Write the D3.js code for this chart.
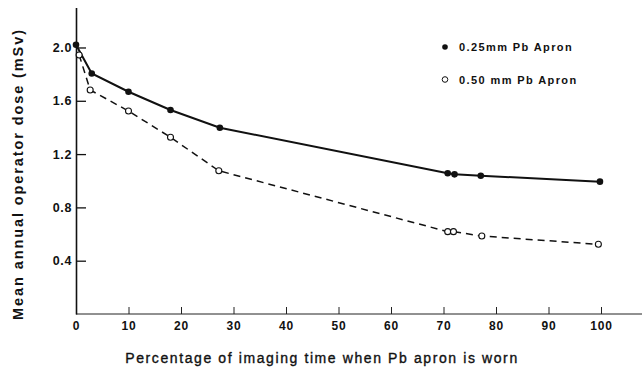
<!DOCTYPE html>
<html>
<head>
<meta charset="utf-8">
<script src="https://cdn.jsdelivr.net/npm/d3@7"></script>
<style>
  body { margin: 0; background: #fff; }
  svg { font-family: "Liberation Sans", Arial, sans-serif; }
</style>
</head>
<body>
<div id="chart"></div>
<script>
// % of imaging time apron is worn
const thinX = [0, 3, 10, 18, 27.4, 70.8, 72.1, 77.1, 99.8]
const thinDose = [2.02, 1.805, 1.668, 1.531, 1.398, 1.056, 1.048, 1.038, 0.993]
const thickX = [0.6, 2.7, 10, 18, 27.2, 70.8, 71.9, 77.3, 99.5]
const thickDose = [1.944, 1.681, 1.523, 1.326, 1.075, 0.618, 0.618, 0.585, 0.523]
const xTicks = [0, 10, 20, 30, 40, 50, 60, 70, 80, 90, 100]
const yTicks = [0.4, 0.8, 1.2, 1.6, 2.0]
const legendLabels = ['0.25mm Pb Apron', '0.50 mm Pb Apron']

const width = 642, height = 372

const svg = d3.select('#chart').append('svg')
    .attr('width', width)
    .attr('height', height)

const xScale = d3.scaleLinear().domain([0, 100]).range([76, 601])
const yScale = d3.scaleLinear().domain([0, 2.3]).range([314, 7.5])

// x axis (line runs past 100)
svg.append('line')
    .attr('x1', xScale(0)).attr('x2', 642)
    .attr('y1', yScale(0)).attr('y2', yScale(0))
    .attr('stroke', '#222').attr('stroke-width', 1)

const xAxis = svg.append('g')
    .attr('transform', `translate(0,${yScale(0)})`)
    .call(d3.axisBottom(xScale).tickValues(xTicks).tickSizeInner(-7).tickSizeOuter(0).tickPadding(7))
xAxis.select('.domain').remove()
xAxis.selectAll('.tick line').attr('stroke', '#222').attr('stroke-width', 1)
xAxis.selectAll('.tick text')
    .attr('font-size', 12).attr('font-weight', 'bold').attr('fill', '#111')
    .attr('font-family', '"Liberation Sans", Arial, sans-serif')
    .attr('letter-spacing', 0.8)

// y axis
const yAxis = svg.append('g')
    .attr('transform', `translate(${xScale(0)},0)`)
    .call(d3.axisLeft(yScale).tickValues(yTicks).tickFormat(d3.format('.1f')).tickSizeInner(-10).tickSizeOuter(0).tickPadding(4))
yAxis.select('.domain').attr('stroke', '#111').attr('stroke-width', 1.6)
yAxis.selectAll('.tick line').attr('stroke', '#111').attr('stroke-width', 1.3)
yAxis.selectAll('.tick text')
    .attr('font-size', 12.5).attr('font-weight', 'bold').attr('fill', '#111')
    .attr('font-family', '"Liberation Sans", Arial, sans-serif')
    .attr('letter-spacing', 0.6)

// axis titles
svg.append('text')
    .attr('x', 322).attr('y', 363)
    .attr('text-anchor', 'middle')
    .attr('font-size', 14)
    .attr('letter-spacing', 1.6)
    .attr('fill', '#111')
    .attr('stroke', '#111')
    .attr('stroke-width', 0.35)
    .text('Percentage of  imaging time when Pb apron is worn')

svg.append('text')
    .attr('transform', 'translate(23,174) rotate(-90)')
    .attr('text-anchor', 'middle')
    .attr('font-size', 14.5)
    .attr('font-weight', 'bold')
    .attr('letter-spacing', 1.9)
    .attr('fill', '#111')
    .text('Mean annual operator dose (mSv)')

const line = d3.line()
    .x(d => xScale(d[0]))
    .y(d => yScale(d[1]))

const thinData = thinX.map((x, i) => [x, thinDose[i]])
const thickData = thickX.map((x, i) => [x, thickDose[i]])

svg.append('path')
    .datum(thickData)
    .attr('d', line)
    .attr('fill', 'none')
    .attr('stroke', '#111')
    .attr('stroke-width', 1.5)
    .attr('stroke-dasharray', '7,5')

svg.append('path')
    .datum(thinData)
    .attr('d', line)
    .attr('fill', 'none')
    .attr('stroke', '#111')
    .attr('stroke-width', 2)

svg.append('g').selectAll('circle')
    .data(thickData)
    .enter()
    .append('circle')
    .attr('cx', d => xScale(d[0]))
    .attr('cy', d => yScale(d[1]))
    .attr('r', 3)
    .attr('fill', '#fff')
    .attr('stroke', '#111')
    .attr('stroke-width', 1.1)

svg.append('g').selectAll('circle')
    .data(thinData)
    .enter()
    .append('circle')
    .attr('cx', d => xScale(d[0]))
    .attr('cy', d => yScale(d[1]))
    .attr('r', 3.3)
    .attr('fill', '#111')

// legend
const legend = svg.append('g').selectAll('g')
    .data(legendLabels)
    .enter()
    .append('g')
    .attr('transform', (d, i) => `translate(445,${47 + i * 32.5})`)

legend.append('circle')
    .attr('r', 2.8)
    .attr('fill', (d, i) => i === 0 ? '#111' : '#fff')
    .attr('stroke', '#111')
    .attr('stroke-width', (d, i) => i === 0 ? 0 : 1)

legend.append('text')
    .attr('x', 14)
    .attr('y', 4)
    .attr('font-size', 11)
    .attr('font-weight', 'bold')
    .attr('letter-spacing', 1.4)
    .attr('fill', '#111')
    .text(d => d)
</script>
</body>
</html>
